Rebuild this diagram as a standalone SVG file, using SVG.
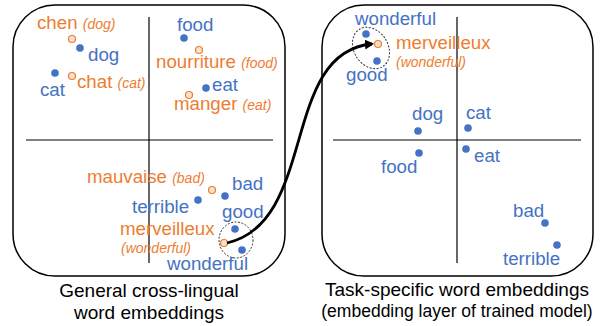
<svg xmlns="http://www.w3.org/2000/svg" width="600" height="326" viewBox="0 0 600 326">
  <style>
    text { font-family: "Liberation Sans", Arial, sans-serif; }
    .frame { fill: #fff; stroke: #000; stroke-width: 1.5; }
    .axis { stroke: #000; stroke-width: 1.2; }
    .en { fill: #4472C4; font-size: 18.7px; }
    .fr { fill: #ED7D31; font-size: 18.7px; }
    .gl { fill: #ED7D31; font-size: 14px; font-style: italic; }
    .pt { fill: #4472C4; }
    .fpt { fill: #FBE0CC; stroke: #ED7D31; stroke-width: 1.2; }
    .halo { fill: none; stroke: #333; stroke-width: 1; stroke-dasharray: 2 1.5; }
    .cap { fill: #000; font-size: 19px; text-anchor: middle; }
    .cap2 { fill: #000; font-size: 17.5px; text-anchor: middle; }
    .link { fill: none; stroke: #000; stroke-width: 2.8; }
  </style>
  <defs>
    <marker id="head" markerWidth="10" markerHeight="10" refX="7" refY="5" orient="auto" markerUnits="userSpaceOnUse">
      <path d="M0,0 L9,5 L0,10 Z" fill="#000"/>
    </marker>
  </defs>

  <!-- general cross-lingual space -->
  <g id="general-space">
    <rect class="frame" x="13" y="5" width="272" height="271" rx="42"/>
    <line class="axis" x1="149" y1="17" x2="149" y2="263"/>
    <line class="axis" x1="26" y1="140" x2="273" y2="140"/>

    <g id="g-dog">
      <circle class="fpt" cx="72" cy="39" r="3.5"/>
      <text class="fr" x="37" y="29">chen <tspan class="gl">(dog)</tspan></text>
      <circle class="pt" cx="80" cy="48" r="3.8"/>
      <text class="en" x="88" y="61">dog</text>
    </g>
    <g id="g-cat">
      <circle class="pt" cx="55" cy="73" r="3.8"/>
      <text class="en" x="40" y="96">cat</text>
      <circle class="fpt" cx="72" cy="76" r="3.5"/>
      <text class="fr" x="77" y="88">chat <tspan class="gl">(cat)</tspan></text>
    </g>
    <g id="g-food">
      <text class="en" x="177" y="31">food</text>
      <circle class="pt" cx="184" cy="38" r="3.8"/>
      <circle class="fpt" cx="199" cy="50" r="3.5"/>
      <text class="fr" x="156" y="68">nourriture <tspan class="gl">(food)</tspan></text>
    </g>
    <g id="g-eat">
      <circle class="pt" cx="206" cy="88" r="3.8"/>
      <text class="en" x="212" y="91">eat</text>
      <circle class="fpt" cx="189" cy="95" r="3.5"/>
      <text class="fr" x="174" y="110">manger <tspan class="gl">(eat)</tspan></text>
    </g>
    <g id="g-bad">
      <text class="fr" x="87" y="183">mauvaise <tspan class="gl">(bad)</tspan></text>
      <circle class="fpt" cx="212" cy="190" r="3.5"/>
      <circle class="pt" cx="225" cy="196" r="3.8"/>
      <text class="en" x="232" y="190">bad</text>
      <circle class="pt" cx="198" cy="200" r="3.8"/>
      <text class="en" x="132" y="213">terrible</text>
    </g>
    <g id="g-good">
      <ellipse class="halo" cx="236" cy="240" rx="17" ry="18"/>
      <text class="en" x="222" y="218">good</text>
      <circle class="pt" cx="235" cy="229" r="3.8"/>
      <text class="fr" x="120" y="235">merveilleux</text>
      <text class="gl" x="121" y="253">(wonderful)</text>
      <circle class="fpt" cx="224" cy="243" r="3.5"/>
      <circle class="pt" cx="242" cy="250" r="3.8"/>
      <text class="en" x="167" y="270">wonderful</text>
    </g>
    <text class="cap" x="149" y="297">General cross-lingual</text>
    <text class="cap" x="149" y="319">word embeddings</text>
  </g>

  <!-- task-specific space -->
  <g id="task-space">
    <rect class="frame" x="322" y="5" width="271" height="271" rx="42"/>
    <line class="axis" x1="457" y1="17" x2="457" y2="263"/>
    <line class="axis" x1="333" y1="140" x2="581" y2="140"/>

    <g id="t-good">
      <ellipse class="halo" cx="371" cy="48" rx="17" ry="22" transform="rotate(-32 371 48)"/>
      <text class="en" x="355" y="25">wonderful</text>
      <circle class="pt" cx="366" cy="34" r="3.8"/>
      <circle class="fpt" cx="378" cy="44" r="3.5"/>
      <circle class="pt" cx="377" cy="61" r="3.8"/>
      <text class="en" x="346" y="81">good</text>
      <text class="fr" x="396" y="49">merveilleux</text>
      <text class="gl" x="396" y="67">(wonderful)</text>
    </g>
    <g id="t-animals">
      <text class="en" x="412" y="120">dog</text>
      <circle class="pt" cx="418" cy="131" r="3.8"/>
      <text class="en" x="466" y="119">cat</text>
      <circle class="pt" cx="468" cy="128" r="3.8"/>
    </g>
    <g id="t-food">
      <circle class="pt" cx="419" cy="153" r="3.8"/>
      <text class="en" x="381" y="173">food</text>
      <circle class="pt" cx="466" cy="149" r="3.8"/>
      <text class="en" x="474" y="162">eat</text>
    </g>
    <g id="t-bad">
      <text class="en" x="513" y="217">bad</text>
      <circle class="pt" cx="545" cy="223" r="3.8"/>
      <circle class="pt" cx="557" cy="245" r="3.8"/>
      <text class="en" x="503" y="265">terrible</text>
    </g>
    <text class="cap" x="457" y="296">Task-specific word embeddings</text>
    <text class="cap2" x="457" y="317">(embedding layer of trained model)</text>
  </g>

  <!-- mapping arrow -->
  <g id="connectors">
    <path class="link" d="M227,243 C318,222 280,52 372,44" marker-end="url(#head)"/>
  </g>
</svg>
